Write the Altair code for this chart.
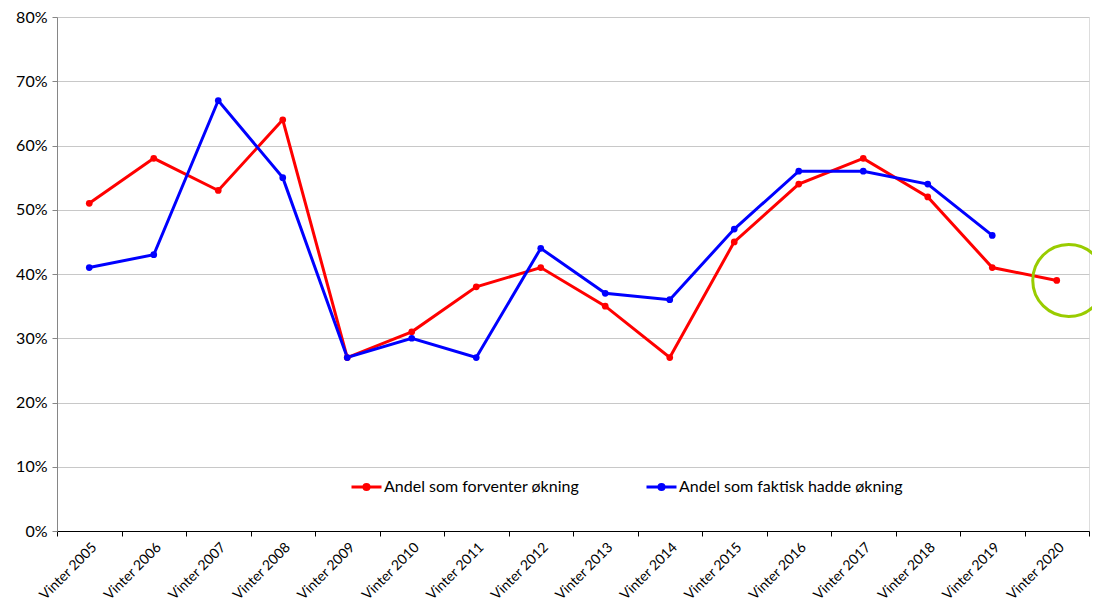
import altair as alt
import pandas as pd

categories = [f"Vinter {y}" for y in range(2005, 2021)]
forventer = [51, 58, 53, 64, 27, 31, 38, 41, 35, 27, 45, 54, 58, 52, 41, 39]
faktisk = [41, 43, 67, 55, 27, 30, 27, 44, 37, 36, 47, 56, 56, 54, 46, None]
series_names = ["Andel som forventer økning", "Andel som faktisk hadde økning"]
series_colors = ["#FF0000", "#0000FF"]
y_ticks = [0, 10, 20, 30, 40, 50, 60, 70, 80]
highlight_category = ["Vinter 2020"]
highlight_value = [39]

rows = []
for c, v in zip(categories, forventer):
    rows.append({"kat": c, "serie": series_names[0], "verdi": v})
for c, v in zip(categories, faktisk):
    if v is not None:
        rows.append({"kat": c, "serie": series_names[1], "verdi": v})
df = pd.DataFrame(rows)
hl = pd.DataFrame({"kat": highlight_category, "verdi": highlight_value})

FONT = "Lato"

xscale = alt.Scale(type="band", domain=categories, paddingInner=0, paddingOuter=0)
yscale = alt.Scale(domain=[0, 80], nice=False)

x_enc = alt.X(
    "kat:N",
    sort=categories,
    bandPosition=0.5,
    scale=xscale,
    axis=alt.Axis(
        title=None,
        labelAngle=-45,
        labelAlign="right",
        labelBaseline="top",
        tickBand="extent",
        domainColor="#000000",
        tickColor="#000000",
        tickSize=5,
        labelFontSize=14,
        labelColor="#000000",
        labelPadding=4,
        grid=False,
    ),
)
y_enc = alt.Y(
    "verdi:Q",
    scale=yscale,
    axis=alt.Axis(
        title=None,
        values=y_ticks,
        labelExpr="datum.value + '%'",
        domainColor="#868686",
        tickColor="#868686",
        tickSize=5,
        gridColor="#C8C8C8",
        gridWidth=1,
        labelFontSize=16,
        labelColor="#000000",
        labelPadding=5,
    ),
)
symbol_path = (
    "M-1,0H1"
    "M-0.17,0A0.17,0.17 0 1,0 0.17,0A0.17,0.17 0 1,0 -0.17,0"
    "M-0.07,0A0.07,0.07 0 1,0 0.07,0A0.07,0.07 0 1,0 -0.07,0"
)
color_enc = alt.Color(
    "serie:N",
    scale=alt.Scale(domain=series_names, range=series_colors),
    legend=alt.Legend(
        title=None,
        orient="none",
        legendX=293,
        legendY=453,
        direction="horizontal",
        columnPadding=60,
        symbolType=symbol_path,
        symbolSize=900,
        symbolStrokeWidth=3,
        labelFontSize=16,
        labelColor="#000000",
        labelOffset=1,
        labelLimit=400,
    ),
)

lines = alt.Chart(df).mark_line(strokeWidth=3).encode(
    x=x_enc, y=y_enc, color=color_enc, detail="serie:N"
)
points = alt.Chart(df).mark_circle(size=45, opacity=1).encode(
    x=x_enc,
    y=y_enc,
    color=alt.Color("serie:N", scale=alt.Scale(domain=series_names, range=series_colors), legend=None),
)
circle = alt.Chart(hl).mark_point(
    shape="circle", size=5184, filled=False, stroke="#99CC00", strokeWidth=3, xOffset=12, opacity=1
).encode(
    x=alt.X("kat:N", sort=categories, bandPosition=0.5, scale=xscale),
    y=alt.Y("verdi:Q", scale=yscale),
)

chart = (
    alt.layer(lines, points, circle)
    .resolve_scale(color="independent")
    .properties(
        width=1032,
        height=514,
        autosize=alt.AutoSizeParams(type="none"),
        padding={"left": 49, "top": 9, "right": 3, "bottom": 76},
    )
    .configure_view(stroke=None)
    .configure(font=FONT)
    .configure_axis(labelFont=FONT)
    .configure_legend(labelFont=FONT)
)

chart.save("out.html", embed_options={"renderer": "svg", "actions": False})
